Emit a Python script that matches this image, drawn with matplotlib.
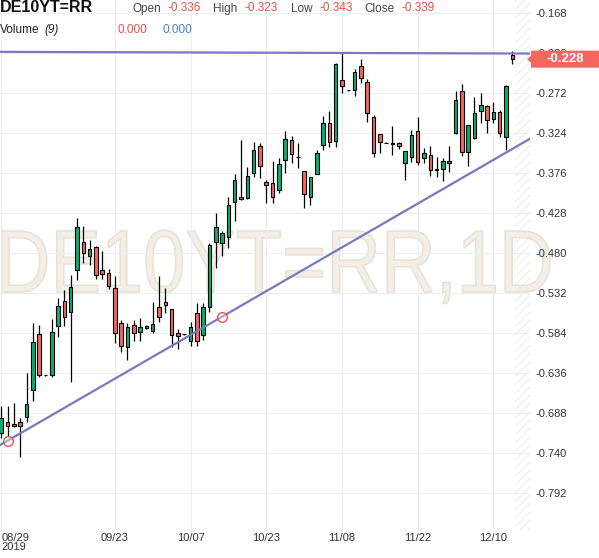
import matplotlib.pyplot as plt
from matplotlib.patches import Rectangle, PathPatch, Polygon
from matplotlib.textpath import TextPath
from matplotlib.font_manager import FontProperties
from matplotlib.transforms import Affine2D, IdentityTransform

plt.rcParams['font.family'] = ['Liberation Sans', 'DejaVu Sans']
plt.rcParams['hatch.linewidth'] = 0.5

# === daily candles (bar index 0 = 08/29/2019) ===
opens = [-0.7144, -0.6993, -0.7027, -0.7001, -0.6928, -0.6581, -0.5853, -0.6385, -0.6386, -0.5749,
         -0.5424, -0.5570, -0.5021, -0.4660, -0.4839, -0.4720, -0.5021, -0.5064, -0.5259, -0.5714,
         -0.6026, -0.5736, -0.5823, -0.5779, -0.5810, -0.5506, -0.5437, -0.5532, -0.5844, -0.5853,
         -0.5940, -0.5576, -0.5870, -0.5498, -0.4661, -0.4666, -0.4596, -0.4141, -0.4068, -0.4081,
         -0.3764, -0.3409, -0.3877, -0.3886, -0.3981, -0.3591, -0.3331, -0.3552, -0.3734, -0.4076,
         -0.3773, -0.3396, -0.3114, -0.3340, -0.2551, -0.2681, -0.2681, -0.2369, -0.2581, -0.3036,
         -0.3257, -0.3364, -0.3374, -0.3374, -0.3634, -0.3556, -0.3214, -0.3569, -0.3526, -0.3708,
         -0.3712, -0.3634, -0.3244, -0.2694, -0.3490, -0.3309, -0.2950, -0.2889, -0.3062, -0.2963,
         -0.3288, -0.2220]
highs = [-0.6785, -0.6785, -0.6754, -0.6949, -0.6364, -0.5714, -0.5736, -0.6380, -0.5662, -0.5389,
         -0.5281, -0.5086, -0.4349, -0.4449, -0.4631, -0.4710, -0.4770, -0.5012, -0.5100, -0.5671,
         -0.5706, -0.5671, -0.5649, -0.5740, -0.5433, -0.5099, -0.5259, -0.5528, -0.5792, -0.5850,
         -0.5693, -0.5454, -0.5454, -0.4674, -0.4284, -0.4510, -0.4068, -0.3773, -0.3331, -0.3678,
         -0.3353, -0.3374, -0.3851, -0.3604, -0.3569, -0.3210, -0.3275, -0.3374, -0.3730, -0.3810,
         -0.3461, -0.3019, -0.2954, -0.2330, -0.2196, -0.2678, -0.2412, -0.2282, -0.2542, -0.3006,
         -0.3250, -0.3360, -0.3149, -0.3353, -0.3470, -0.3201, -0.3036, -0.3439, -0.3409, -0.3556,
         -0.3569, -0.3409, -0.2694, -0.2603, -0.3130, -0.2768, -0.2724, -0.2880, -0.2833, -0.2941,
         -0.2620, -0.2180]
lows = [-0.7209, -0.7175, -0.7066, -0.7448, -0.6993, -0.6720, -0.6416, -0.6395, -0.6416, -0.5888,
        -0.5749, -0.6481, -0.5151, -0.4926, -0.4956, -0.5142, -0.5134, -0.5272, -0.5974, -0.6083,
        -0.6191, -0.5940, -0.5940, -0.5782, -0.5844, -0.5693, -0.5584, -0.6026, -0.6052, -0.5860,
        -0.6009, -0.6009, -0.5931, -0.5570, -0.4999, -0.4835, -0.4739, -0.4380, -0.4111, -0.4098,
        -0.3816, -0.3829, -0.4154, -0.4154, -0.4024, -0.3756, -0.3634, -0.3699, -0.4219, -0.4176,
        -0.3775, -0.3461, -0.3426, -0.3426, -0.2716, -0.2690, -0.2755, -0.2586, -0.3093, -0.3548,
        -0.3496, -0.3370, -0.3526, -0.3452, -0.3851, -0.3613, -0.3656, -0.3626, -0.3799, -0.3816,
        -0.3860, -0.3743, -0.3250, -0.3539, -0.3665, -0.3320, -0.3114, -0.3236, -0.3114, -0.3288,
        -0.3461, -0.2340]
closes = [-0.6949, -0.7045, -0.7045, -0.7045, -0.6767, -0.5961, -0.6386, -0.6390, -0.5831, -0.5489,
          -0.5628, -0.5246, -0.4466, -0.4804, -0.4752, -0.5090, -0.5077, -0.5229, -0.5844, -0.6009,
          -0.5766, -0.5844, -0.5766, -0.5745, -0.5723, -0.5636, -0.5480, -0.5866, -0.5879, -0.5857,
          -0.5766, -0.5940, -0.5506, -0.4696, -0.4466, -0.4544, -0.4176, -0.3851, -0.4098, -0.3799,
          -0.3461, -0.3669, -0.3912, -0.4076, -0.3643, -0.3322, -0.3517, -0.3558, -0.4037, -0.3816,
          -0.3496, -0.3106, -0.3353, -0.2343, -0.2625, -0.2685, -0.2451, -0.2529, -0.2984, -0.3504,
          -0.3361, -0.3368, -0.3378, -0.3409, -0.3474, -0.3270, -0.3620, -0.3504, -0.3721, -0.3721,
          -0.3604, -0.3604, -0.2811, -0.3491, -0.3136, -0.2984, -0.2876, -0.3071, -0.2971, -0.3236,
          -0.2629, -0.2280]

tick_pos = [0, 18, 30, 42, 54, 66, 78]
tick_labels = ['08/29\n2019', '09/23', '10/07', '10/23', '11/08', '11/22', '12/10']
y_ticks = [-0.168, -0.220, -0.272, -0.324, -0.376, -0.428, -0.480,
           -0.532, -0.584, -0.636, -0.688, -0.740, -0.792]

# trend lines drawn on the chart
support_x = [1, 35]
support_y = [-0.7240, -0.5628]
resist_x = [0, 83]
resist_y = [-0.2185, -0.2207]
last_price = -0.228

header_ohlc = [('Open', '-0.336'), ('High', '-0.323'), ('Low', '-0.343'), ('Close', '-0.339')]
volume_vals = ['0.000', '0.000']

UP = '#0aae6f'
DOWN = '#f4665f'
LINE = '#7a78c2'
GRID = '#eeeeee'

W, H = 599, 558
fig = plt.figure(figsize=(W / 100, H / 100), dpi=100)
ax = fig.add_axes([0, 28 / H, 530 / W, 530 / H])
ax.set_xlim(-0.2, 83.8)
ax.set_ylim(-0.8401, -0.1511)
for s in ax.spines.values():
    s.set_visible(False)

# === grid + axes ===
ax.set_axisbelow(True)
ax.grid(True, color=GRID, lw=0.8)
ax.yaxis.tick_right()
ax.set_yticks(y_ticks, [f'{v:.3f}' for v in y_ticks])
ax.tick_params(axis='y', length=0, pad=4, labelsize=8, labelcolor='#333333')
ax.set_xticks(tick_pos, tick_labels)
ax.tick_params(axis='x', length=0, pad=2, labelsize=8, labelcolor='#333333')
first = ax.get_xticklabels()[0]
first.set_ha('left')
first.set_multialignment('left')
first.set_linespacing(0.95)

# === watermark ===
fp = FontProperties(family='Liberation Sans')
tp = TextPath((0, 0), 'DE10YT=RR,1D', size=100, prop=fp)
ext = tp.get_extents()
cap = TextPath((0, 0), 'D', size=100, prop=fp).get_extents()
tr = Affine2D().translate(-ext.x0, 0).scale(548 / ext.width, 61 / cap.height).translate(2, H - 292)
wm = PathPatch(tr.transform_path(tp), facecolor='#f3efe8', edgecolor='#e8e1d4', lw=1.1,
               transform=IdentityTransform(), zorder=0.2)
ax.add_artist(wm)
wm.set_clip_on(False)

# future zone hatch
ax.axvspan(81.5, 83.8, facecolor='none', edgecolor='#e6e6e6', hatch='////', lw=0, zorder=0.3)

# === candles ===
bw = 0.56
for i in range(len(opens)):
    o, h, l, c = opens[i], highs[i], lows[i], closes[i]
    col = UP if c > o else DOWN
    ax.vlines(i, l, h, color='black', lw=0.9, zorder=2)
    ax.add_patch(Rectangle((i - bw / 2, min(o, c)), bw, max(abs(c - o), 0.0002),
                           facecolor=col, edgecolor='black', lw=0.8, zorder=3))

# === trend lines ===
ax.axline((support_x[0], support_y[0]), (support_x[1], support_y[1]), color=LINE, lw=1.6, zorder=4)
ax.axline((resist_x[0], resist_y[0]), (resist_x[1], resist_y[1]), color=LINE, lw=1.6, zorder=4)
ax.plot(support_x, support_y, 'o', ms=7, mfc=(1, 1, 1, 0.35), mec='#f0524c', mew=1, zorder=5)

# === last price tag ===
yp = ax.transData.transform((0, last_price))[1]
tag = Polygon([(527, yp), (531, yp + 3.5), (531, yp + 8.5), (599, yp + 8.5),
               (599, yp - 8.5), (531, yp - 8.5), (531, yp - 3.5)], closed=True,
              facecolor='#f4675f', edgecolor='none', transform=IdentityTransform(), zorder=6)
fig.add_artist(tag)
fig.text(565 / W, yp / H, f'{last_price:.3f}', color='white', fontsize=9.5, fontweight='bold',
         ha='center', va='center', zorder=7)

# === header ===
fig.text(0, 1 - 11.7 / H, 'DE10YT=RR', fontsize=11.5, fontweight='bold', color='#111111', va='baseline')
lab_x = [132.7, 213, 290.7, 364.3]
val_x = [168, 245, 319, 401.7]
for (lab, val), lx, vx in zip(header_ohlc, lab_x, val_x):
    fig.text(lx / W, 1 - 12.3 / H, lab, fontsize=8.5, color='#444444', va='baseline')
    fig.text(vx / W, 1 - 11.3 / H, val, fontsize=8.5, color='#e8504a', va='baseline')
fig.text(0, 1 - 33 / H, 'Volume', fontsize=8.5, color='#222222', va='baseline')
fig.text(44.3 / W, 1 - 33 / H, '(9)', fontsize=8.5, color='#222222', style='italic', va='baseline')
fig.text(117.3 / W, 1 - 33 / H, volume_vals[0], fontsize=8.5, color='#e8504a', va='baseline')
fig.text(162.7 / W, 1 - 33 / H, volume_vals[1], fontsize=8.5, color='#4a7fd8', va='baseline')

fig.savefig('out.png', dpi=100)
